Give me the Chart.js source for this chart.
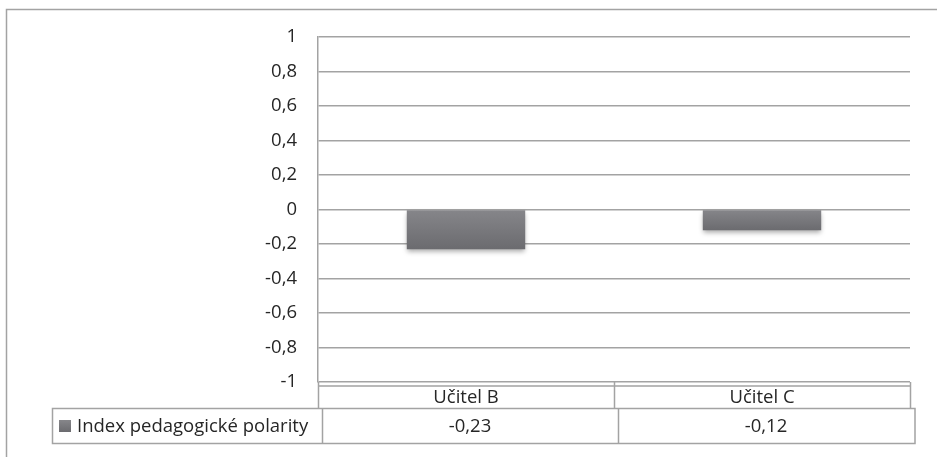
<!DOCTYPE html>
<html>
<head>
<meta charset="utf-8">
<script src="https://cdn.jsdelivr.net/npm/chart.js@4.4.1/dist/chart.umd.min.js"></script>
<style>
  html, body { margin: 0; padding: 0; background: #ffffff; }
  #wrap { width: 937px; height: 457px; position: relative; }
</style>
</head>
<body>
<div id="wrap"><canvas id="c" width="937" height="457"></canvas></div>
<script>
// Kategorie, hodnoty a popisky osy
const categories = ['Učitel B', 'Učitel C'];
const seriesName = 'Index pedagogické polarity';
const seriesValues = [-0.23, -0.12];
const yTickValues = [1, 0.8, 0.6, 0.4, 0.2, 0, -0.2, -0.4, -0.6, -0.8, -1];

const FONT = '"Open Sans", Lato, sans-serif';
const FONT_SIZE = 18.5;
const TEXT = '#262626';
const LINE = '#a3a3a3';

function czNum(v) {
  const r = Math.round(v * 100) / 100;
  return String(r).replace('.', ',');
}

function barGradient(ctx, yTop, yBottom) {
  const g = ctx.createLinearGradient(0, yTop, 0, yBottom);
  g.addColorStop(0, '#86868a');
  g.addColorStop(1, '#6b6b6f');
  return g;
}

// Stín pod sloupci
const shadowPlugin = {
  id: 'barShadow',
  beforeDatasetsDraw(chart) {
    const c = chart.ctx;
    c.save();
    c.shadowColor = 'rgba(0,0,0,0.35)';
    c.shadowBlur = 5;
    c.shadowOffsetY = 3;
  },
  afterDatasetsDraw(chart) {
    chart.ctx.restore();
  }
};

// Rámeček grafu, řádek kategorií a tabulka dat pod osou
const tablePlugin = {
  id: 'dataTable',
  afterDraw(chart) {
    const c = chart.ctx;
    const area = chart.chartArea;
    const xs = chart.scales.x;
    const n = categories.length;
    const catW = (area.right - area.left) / n;

    c.save();
    c.strokeStyle = LINE;
    c.lineWidth = 1.5;

    // vnější rámeček
    c.strokeRect(6.5, 9.5, 960, 470);

    // řádek kategorií
    const rowTop = area.bottom;
    const rowMid = area.bottom + 4;
    const rowBottom = area.bottom + 26;
    c.beginPath();
    c.moveTo(area.left, rowMid); c.lineTo(area.right, rowMid);
    for (let i = 0; i <= n; i++) {
      const x = Math.round(area.left + i * catW) + 0.5;
      c.moveTo(x, rowTop); c.lineTo(x, rowBottom);
    }
    c.stroke();

    // tabulka dat
    const tTop = rowBottom + 0.5;
    const tBottom = tTop + 35;
    const tLeft = 52.5;
    const tRight = area.right + 5;
    c.beginPath();
    c.rect(tLeft, tTop, tRight - tLeft, tBottom - tTop);
    for (let i = 0; i < n; i++) {
      const x = Math.round(area.left + i * catW + 4) + 0.5;
      c.moveTo(x, tTop); c.lineTo(x, tBottom);
    }
    c.stroke();

    c.fillStyle = TEXT;
    c.font = FONT_SIZE + 'px ' + FONT;
    c.textBaseline = 'middle';
    c.textAlign = 'center';
    categories.forEach((lab, i) => {
      c.fillText(lab, xs.getPixelForValue(i), (rowMid + rowBottom) / 2 + 1);
      const cx = area.left + i * catW + 4 + catW / 2;
      c.fillText(czNum(seriesValues[i]), cx, (tTop + tBottom) / 2 + 1);
    });

    // legenda v tabulce
    const sq = 12;
    const sqX = 59, sqY = (tTop + tBottom) / 2 - sq / 2;
    c.fillStyle = barGradient(c, sqY, sqY + sq);
    c.fillRect(sqX, sqY, sq, sq);
    c.fillStyle = TEXT;
    c.textAlign = 'left';
    c.fillText(seriesName, 77, (tTop + tBottom) / 2 + 1);
    c.restore();
  }
};

new Chart(document.getElementById('c'), {
  type: 'bar',
  data: {
    labels: categories,
    datasets: [{
      label: seriesName,
      data: seriesValues,
      backgroundColor: (ctx) => {
        const chart = ctx.chart;
        if (!chart.chartArea || ctx.parsed === undefined) return '#78787c';
        const ys = chart.scales.y;
        const y0 = ys.getPixelForValue(0);
        const y1 = ys.getPixelForValue(ctx.parsed.y);
        return barGradient(chart.ctx, Math.min(y0, y1), Math.max(y0, y1));
      },
      borderWidth: 0,
      barPercentage: 0.4,
      categoryPercentage: 1.0
    }]
  },
  options: {
    responsive: false,
    animation: false,
    events: [],
    layout: { padding: { left: 0, right: 27, top: 37, bottom: 75 } },
    plugins: {
      legend: { display: false },
      tooltip: { enabled: false },
      title: { display: false }
    },
    scales: {
      x: {
        display: false,
        offset: true
      },
      y: {
        min: -1,
        max: 1,
        afterFit(scale) { scale.width = 318; },
        afterBuildTicks(scale) {
          scale.ticks = yTickValues.map(v => ({ value: v }));
        },
        ticks: {
          padding: 21,
          color: TEXT,
          font: { family: FONT, size: FONT_SIZE },
          callback: (v) => czNum(v)
        },
        grid: {
          color: LINE,
          lineWidth: 1.5,
          drawTicks: false
        },
        border: { display: true, color: LINE, width: 1.5 }
      }
    }
  },
  plugins: [shadowPlugin, tablePlugin]
});
</script>
</body>
</html>
